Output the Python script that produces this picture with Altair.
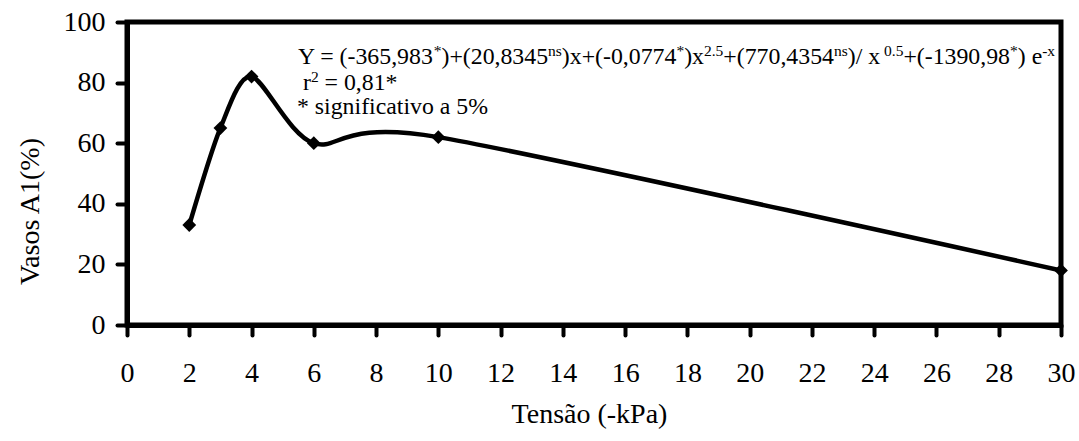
import altair as alt
import pandas as pd

# ---- data ----
tensao = [2, 3, 4, 6, 10, 30]
vasos = [33, 65, 82, 60, 62, 18]

x_ticks = list(range(0, 31, 2))
y_ticks = [0, 20, 40, 60, 80, 100]

# annotation text pieces: (text, is_superscript)
line1 = [("Y = (-365,983", 0), ("*", 1), (")+(20,8345", 0), ("ns", 1),
         (")x+(-0,0774", 0), ("*", 1), (")x", 0), ("2.5", 1),
         ("+(770,4354", 0), ("ns", 1), (")/ x", 0), (" 0.5", 1),
         ("+(-1390,98", 0), ("*", 1), (") e", 0), ("-x", 1)]
line2 = [(" r", 0), ("2", 1), (" = 0,81*", 0)]
line3 = [("* significativo a 5%", 0)]

FONT = "Liberation Serif"
MAIN, SUP, RAISE = 23.8, 15.5, 8.5
ORIGIN_X, ORIGIN_Y = 127, 22  # plot-area origin in the page

# Times / Liberation Serif advance widths (per 1000 em)
W = {" ": 250, "=": 564, "(": 333, ")": 333, "-": 333, "+": 564, ",": 250,
     ".": 250, "*": 500, "/": 278, "Y": 722, "n": 500, "s": 389, "x": 500,
     "e": 444, "r": 333, "i": 278, "g": 500, "f": 333, "c": 444, "a": 444,
     "t": 278, "v": 500, "o": 500, "%": 833}
for d in "0123456789":
    W[d] = 500


def width(txt, size):
    return sum(W.get(ch, 500) for ch in txt) * size / 1000.0


rows = []
for x0, base, segs in [(298, 64, line1), (297, 90, line2), (297, 114, line3)]:
    x = x0 - ORIGIN_X
    for txt, sup in segs:
        size = SUP if sup else MAIN
        lead = len(txt) - len(txt.lstrip(" "))
        x += width(" " * lead, size)          # SVG drops leading spaces
        core = txt.lstrip(" ")
        rows.append({"t": core, "px": x,
                     "py": base - ORIGIN_Y - (RAISE if sup else 0), "fs": size})
        x += width(core, size)
ann = pd.DataFrame(rows)

df = pd.DataFrame({"x": tensao, "y": vasos})

xenc = alt.X("x:Q", scale=alt.Scale(domain=[0, 30], nice=False, zero=False),
             axis=alt.Axis(values=x_ticks, title="Tensão (-kPa)", labelPadding=24,
                           labelFlush=False, labelOverlap=False,
                           labelFont=FONT, titleFont=FONT,
                           titleX=462, titleY=89, titleBaseline="middle"))
yenc = alt.Y("y:Q", scale=alt.Scale(domain=[0, 100], nice=False),
             axis=alt.Axis(values=y_ticks, title="Vasos A1(%)", labelPadding=12,
                           labelOverlap=False, labelFont=FONT, titleFont=FONT,
                           titleX=-97, titleY=189,
                           titleAngle=-90, titleAlign="center", titleBaseline="middle"))

line = alt.Chart(df).mark_line(color="black", strokeWidth=4.5,
                               interpolate="cardinal", tension=0.2).encode(x=xenc, y=yenc)
pts = alt.Chart(df).mark_point(shape="diamond", filled=True, color="black",
                               size=190, opacity=1).encode(x=xenc, y=yenc)
txt = alt.Chart(ann).mark_text(align="left", baseline="alphabetic", font=FONT,
                               color="black").encode(
    x=alt.X("px:Q", scale=None, axis=None),
    y=alt.Y("py:Q", scale=None, axis=None),
    size=alt.Size("fs:Q", scale=None, legend=None),
    text="t:N")

chart = alt.layer(line, pts, txt).properties(
    width=934, height=303,
    autosize=alt.AutoSizeParams(type="none"),
    padding={"left": 127, "top": 22, "right": 18, "bottom": 116},
    background="white",
).configure(font=FONT).configure_view(stroke="black", strokeWidth=5).configure_axis(
    grid=False, domainColor="black", domainWidth=5, tickColor="black",
    tickWidth=4, tickSize=10, tickCap="round",
    labelFont=FONT, labelFontSize=28, labelColor="black",
    titleFont=FONT, titleFontSize=28, titleColor="black", titleFontWeight="normal",
)

chart.save("out.html", embed_options={"renderer": "svg", "actions": False})
